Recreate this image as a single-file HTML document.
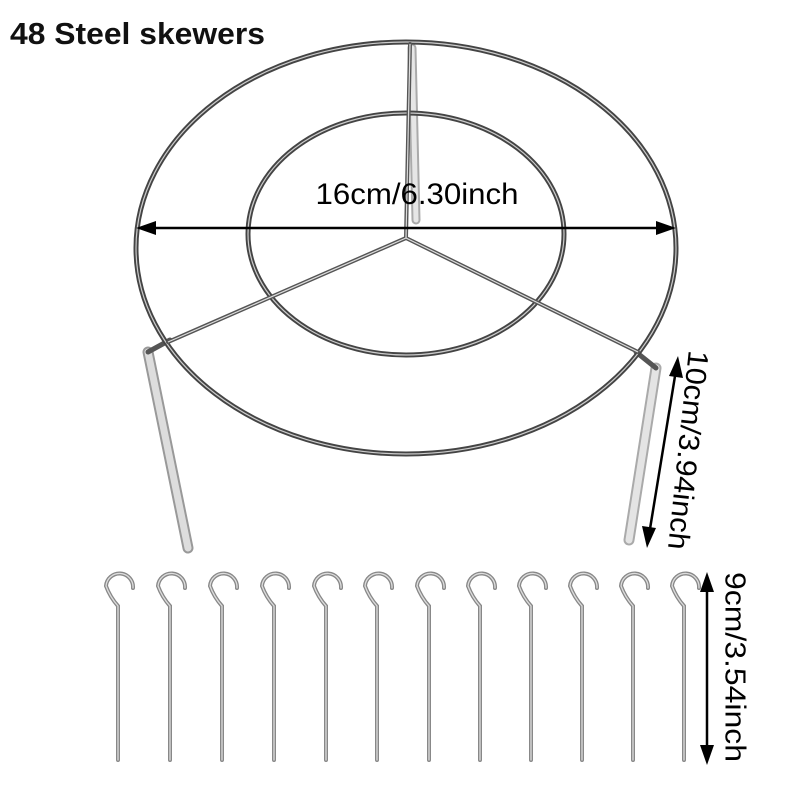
<!DOCTYPE html>
<html><head><style>html,body{margin:0;padding:0;background:#fff}svg{display:block}</style></head><body>
<svg width="800" height="800" viewBox="0 0 800 800" xmlns="http://www.w3.org/2000/svg">
<rect width="800" height="800" fill="#fff"/>
<text x="10" y="44" font-family="Liberation Sans, sans-serif" font-size="31" font-weight="bold" fill="#111" textLength="255" lengthAdjust="spacingAndGlyphs">48 Steel skewers</text>
<!-- legs -->
<g stroke-linecap="round" fill="none">
<path d="M148 352 L188 548" stroke="#999" stroke-width="11"/>
<path d="M148 352 L188 548" stroke="#ddd" stroke-width="7"/>
<path d="M656 368 L629 540" stroke="#aaa" stroke-width="11"/>
<path d="M656 368 L629 540" stroke="#e4e4e4" stroke-width="7"/>
<path d="M412 48 L416 220" stroke="#aaa" stroke-width="9"/>
<path d="M412 48 L416 220" stroke="#e6e6e6" stroke-width="5"/>
<path d="M170 340 L148 352" stroke="#555" stroke-width="5"/>
<path d="M636 352 L656 368" stroke="#555" stroke-width="5"/>
</g>
<!-- rings -->
<g fill="none" stroke="#444" stroke-width="5">
<ellipse cx="406" cy="248" rx="270" ry="206"/>
<ellipse cx="406" cy="234" rx="158" ry="121"/>
</g>
<g fill="none" stroke="#ccc" stroke-width="1.2">
<ellipse cx="406" cy="248" rx="270" ry="206"/>
<ellipse cx="406" cy="234" rx="158" ry="121"/>
</g>
<!-- spokes -->
<g stroke="#555" stroke-width="4" stroke-linecap="round">
<path d="M406 238 L168 342"/>
<path d="M406 238 L638 352"/>
<path d="M406 238 L410 44"/>
</g>
<g stroke="#ddd" stroke-width="1.2">
<path d="M406 238 L168 342"/>
<path d="M406 238 L638 352"/>
<path d="M406 238 L410 44"/>
</g>
<!-- dimension 16cm -->
<line x1="148" y1="228" x2="664" y2="228" stroke="#000" stroke-width="2.5"/>
<polygon points="136,228 156,221 156,235" fill="#000"/>
<polygon points="676,228 656,221 656,235" fill="#000"/>
<text x="417" y="204" text-anchor="middle" font-family="Liberation Sans, sans-serif" font-size="30" fill="#000" textLength="203" lengthAdjust="spacingAndGlyphs">16cm/6.30inch</text>
<!-- dimension 10cm -->
<line x1="676" y1="370" x2="649" y2="535" stroke="#000" stroke-width="2.5"/>
<polygon points="678,356 683,378 669,376" fill="#000"/>
<polygon points="647,548 642,526 656,528" fill="#000"/>
<text transform="translate(686,450) rotate(96)" text-anchor="middle" dominant-baseline="middle" font-family="Liberation Sans, sans-serif" font-size="29" fill="#000" textLength="200" lengthAdjust="spacingAndGlyphs">10cm/3.94inch</text>
<!-- skewers -->
<g fill="none" stroke-linecap="round">
<g id="sk">
<path d="M133 588 A13.5 13.5 0 1 0 106 586 Q110 597 118 606 L118 760" stroke="#888" stroke-width="4"/>
<path d="M133 588 A13.5 13.5 0 1 0 106 586 Q110 597 118 606 L118 760" stroke="#ddd" stroke-width="1.3"/>
</g>
<use href="#sk" x="52"/><use href="#sk" x="104"/><use href="#sk" x="156"/>
<use href="#sk" x="208"/><use href="#sk" x="259"/><use href="#sk" x="311"/>
<use href="#sk" x="362"/><use href="#sk" x="413"/><use href="#sk" x="464"/>
<use href="#sk" x="515"/><use href="#sk" x="566"/>
</g>
<!-- dimension 9cm -->
<line x1="707" y1="585" x2="707" y2="752" stroke="#000" stroke-width="2.5"/>
<polygon points="707,572 700,592 714,592" fill="#000"/>
<polygon points="707,765 700,745 714,745" fill="#000"/>
<text transform="translate(733,667) rotate(90)" text-anchor="middle" dominant-baseline="middle" font-family="Liberation Sans, sans-serif" font-size="29" fill="#000" textLength="190" lengthAdjust="spacingAndGlyphs">9cm/3.54inch</text>
</svg>
</body></html>
